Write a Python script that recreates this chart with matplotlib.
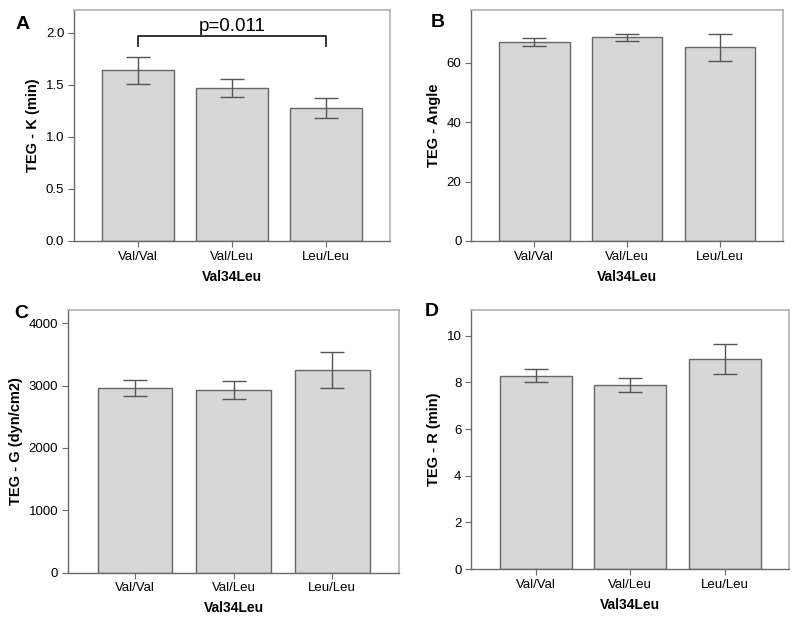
import matplotlib
matplotlib.use("Agg")
import matplotlib.pyplot as plt
import numpy as np

categories = ["Val/Val", "Val/Leu", "Leu/Leu"]

k_mean = [1.64, 1.47, 1.28]
k_low = [1.51, 1.38, 1.18]
k_high = [1.77, 1.56, 1.37]

angle_mean = [66.9, 68.7, 65.2]
angle_low = [65.5, 67.4, 60.7]
angle_high = [68.2, 69.8, 69.7]

g_mean = [2963, 2925, 3246]
g_low = [2834, 2791, 2957]
g_high = [3091, 3070, 3535]

r_mean = [8.29, 7.87, 8.99]
r_low = [8.00, 7.57, 8.37]
r_high = [8.59, 8.17, 9.64]

plt.rcParams['font.family'] = ['Liberation Sans', 'DejaVu Sans']

fig = plt.figure(figsize=(8.0, 6.21), dpi=100)
W, H = 800.0, 621.0

panels = [
    dict(rect=[0.0925, 0.612, 0.395, 0.372], mean=k_mean, lo=k_low, hi=k_high,
         ylabel="TEG - K (min)", ylim=(0, 2.22), yticks=[0.0, 0.5, 1.0, 1.5, 2.0],
         fmt="{:.1f}", letter="A", lpos=(23, 24.5)),
    dict(rect=[0.589, 0.612, 0.39, 0.372], mean=angle_mean, lo=angle_low, hi=angle_high,
         ylabel="TEG - Angle", ylim=(0, 77.8), yticks=[0, 20, 40, 60],
         fmt="{:d}", letter="B", lpos=(438, 22.5)),
    dict(rect=[0.085, 0.078, 0.414, 0.423], mean=g_mean, lo=g_low, hi=g_high,
         ylabel="TEG - G (dyn/cm2)", ylim=(0, 4215), yticks=[0, 1000, 2000, 3000, 4000],
         fmt="{:d}", letter="C", lpos=(21, 313)),
    dict(rect=[0.589, 0.0837, 0.3975, 0.417], mean=r_mean, lo=r_low, hi=r_high,
         ylabel="TEG - R (min)", ylim=(0, 11.1), yticks=[0, 2, 4, 6, 8, 10],
         fmt="{:d}", letter="D", lpos=(432, 312)),
]

axes = []
for p in panels:
    ax = fig.add_axes(p["rect"])
    x = np.arange(len(categories))
    mean = np.array(p["mean"], dtype=float)
    lo = np.array(p["lo"], dtype=float)
    hi = np.array(p["hi"], dtype=float)
    ax.bar(x, mean, width=0.76, color="#d7d7d7", edgecolor="#666666", linewidth=1.0, zorder=2)
    ax.errorbar(x, mean, yerr=[mean - lo, hi - mean], fmt="none", ecolor="#555555",
                elinewidth=1.0, capsize=8.8, capthick=1.0, zorder=3)
    ax.set_xlim(-0.68, 2.68)
    ax.set_ylim(*p["ylim"])
    ax.set_xticks(x)
    ax.set_xticklabels(categories, fontsize=9.5)
    ax.set_yticks(p["yticks"])
    ax.set_yticklabels([p["fmt"].format(v) for v in p["yticks"]], fontsize=9.5)
    ax.set_ylabel(p["ylabel"], fontsize=10.5, fontweight="bold")
    ax.set_xlabel("Val34Leu", fontsize=10, fontweight="bold", labelpad=5)
    for s in ["top", "right"]:
        ax.spines[s].set_color("#b0b0b0")
        ax.spines[s].set_linewidth(1.2)
    for s in ["left", "bottom"]:
        ax.spines[s].set_color("#6a6a6a")
        ax.spines[s].set_linewidth(1.0)
    ax.tick_params(axis="both", direction="out", length=4, color="#6a6a6a", width=0.8, pad=3)
    lx, ly = p["lpos"]
    fig.text(lx / W, 1 - ly / H, p["letter"], fontsize=14,
             fontweight="bold", ha="center", va="center")
    axes.append(ax)

# significance bracket in panel A
axA = axes[0]
axA.plot([0, 0, 2, 2], [1.87, 1.97, 1.97, 1.87], color="#222222", linewidth=1.3,
         solid_joinstyle="round")
axA.text(1, 2.06, "p=0.011", ha="center", va="center", fontsize=13.5)

fig.savefig("out.png", dpi=100)
